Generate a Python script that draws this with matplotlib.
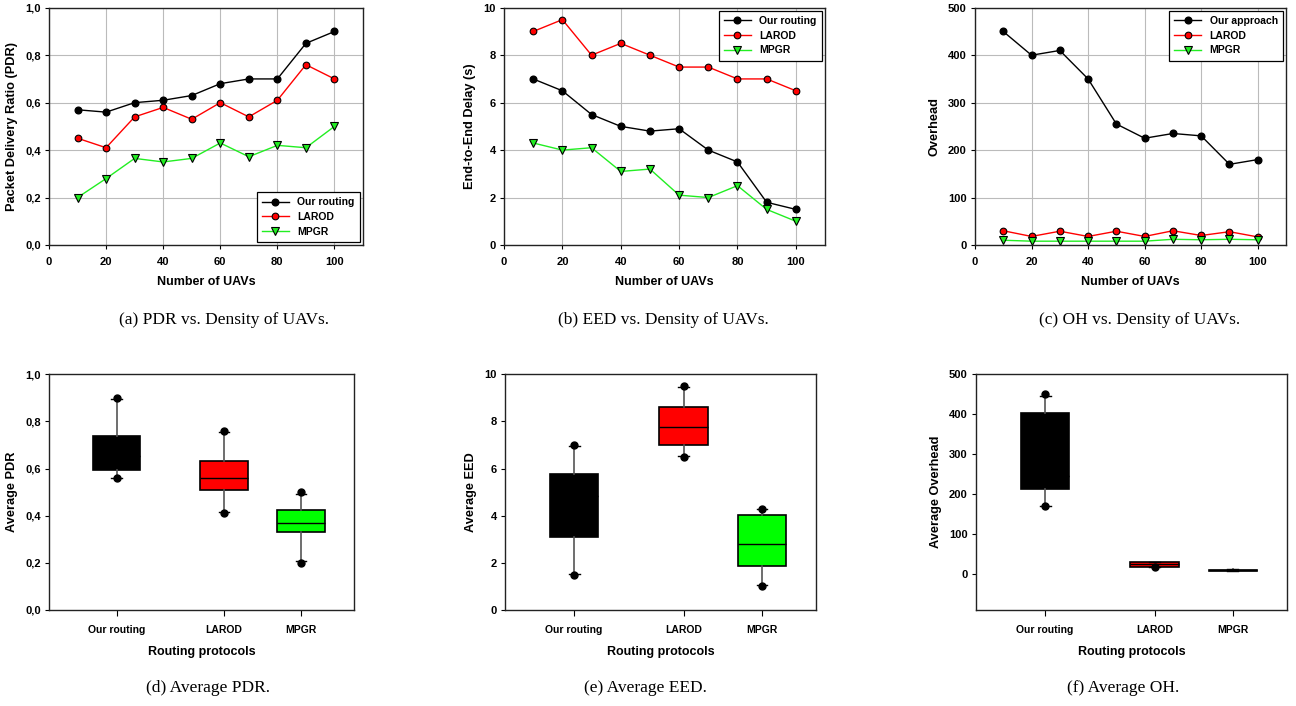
import numpy as np
import matplotlib
matplotlib.use('Agg')
import matplotlib.pyplot as plt
from matplotlib.ticker import FuncFormatter

plt.rcParams['font.family'] = ['Liberation Sans', 'DejaVu Sans']

# data
uavs = [10, 20, 30, 40, 50, 60, 70, 80, 90, 100]
protocols = ['Our routing', 'LAROD', 'MPGR']

pdr_ours = [0.57, 0.56, 0.60, 0.61, 0.63, 0.68, 0.70, 0.70, 0.85, 0.90]
pdr_larod = [0.45, 0.41, 0.54, 0.58, 0.53, 0.60, 0.54, 0.61, 0.76, 0.70]
pdr_mpgr = [0.20, 0.28, 0.365, 0.35, 0.365, 0.43, 0.372, 0.42, 0.41, 0.50]

eed_ours = [7.0, 6.5, 5.5, 5.0, 4.8, 4.9, 4.0, 3.5, 1.8, 1.5]
eed_larod = [9.0, 9.5, 8.0, 8.5, 8.0, 7.5, 7.5, 7.0, 7.0, 6.5]
eed_mpgr = [4.3, 4.0, 4.1, 3.1, 3.2, 2.1, 2.0, 2.5, 1.5, 1.0]

oh_ours = [450, 400, 410, 350, 255, 225, 235, 230, 170, 180]
oh_larod = [30, 18, 29, 18, 29, 18, 30, 20, 28, 17]
oh_mpgr = [10, 8, 8, 8, 8, 8, 12, 11, 12, 11]

fig = plt.figure(figsize=(12.96, 7.06), dpi=100)

TICK = 8
LEG = 7.5
XLAB = 9
YLAB = 9.2


def comma(v, pos):
    return ('%.1f' % v).replace('.', ',')


def style(ax):
    for s in ax.spines.values():
        s.set_linewidth(1.0)
        s.set_color('#222222')
    ax.tick_params(direction='out', length=3, width=0.8, labelsize=TICK, pad=3)
    for t in ax.get_xticklabels() + ax.get_yticklabels():
        t.set_fontweight('bold')


def line_panel(rect, ys, names, ylim, yticks, ylabel, legloc, fmt=None):
    ax = fig.add_axes(rect)
    ax.plot(uavs, ys[0], '-o', color='black', mfc='black', mec='black', ms=4.8, lw=1.0, label=names[0])
    ax.plot(uavs, ys[1], '-o', color='red', mfc='red', mec='black', ms=4.8, mew=0.8, lw=1.0, label=names[1])
    ax.plot(uavs, ys[2], '-v', color='#22ee22', mfc='#22ee22', mec='black', ms=5.2, mew=0.8, lw=1.0, label=names[2])
    ax.set_xlim(0, 110)
    ax.set_ylim(*ylim)
    ax.set_xticks([0, 20, 40, 60, 80, 100])
    ax.set_yticks(yticks)
    if fmt:
        ax.yaxis.set_major_formatter(FuncFormatter(fmt))
    ax.grid(True, color='#bbbbbb', lw=0.8)
    ax.set_axisbelow(True)
    ax.set_xlabel('Number of UAVs', fontsize=XLAB, fontweight='bold', labelpad=6)
    ax.set_ylabel(ylabel, fontsize=YLAB, fontweight='bold', labelpad=5)
    leg = ax.legend(loc=legloc, fancybox=False, framealpha=1,
                    edgecolor='black', handlelength=2.6, borderpad=0.5,
                    labelspacing=0.45, borderaxespad=0.3, prop={'weight': 'bold', 'size': LEG})
    leg.get_frame().set_linewidth(0.9)
    style(ax)
    ax.tick_params(axis='x', pad=6)
    return ax


def box_panel(rect, groups, colors, ylim, yticks, ylabel, fmt=None):
    ax = fig.add_axes(rect)
    positions = [0.222, 0.574, 0.826]
    stats = []
    for g in groups:
        g = np.asarray(g, dtype=float)
        q1, med, q3, lo, hi = np.percentile(g, [25, 50, 75, 10, 90], method='weibull')
        fl = g[(g < lo) | (g > hi)]
        stats.append(dict(med=med, q1=q1, q3=q3, whislo=lo, whishi=hi, fliers=fl))
    bp = ax.bxp(stats, positions=positions, widths=0.155, capwidths=0.035,
                patch_artist=True, showfliers=True,
                boxprops=dict(edgecolor='black', linewidth=1.2),
                medianprops=dict(color='black', linewidth=1.0),
                whiskerprops=dict(color='#555555', linewidth=1.2),
                capprops=dict(color='black', linewidth=1.0),
                flierprops=dict(marker='o', markerfacecolor='black', markeredgecolor='black',
                                markersize=5, linestyle='none'))
    for patch, c in zip(bp['boxes'], colors):
        patch.set_facecolor(c)
    ax.set_xlim(0, 1)
    ax.set_ylim(*ylim)
    ax.set_yticks(yticks)
    if fmt:
        ax.yaxis.set_major_formatter(FuncFormatter(fmt))
    ax.set_xticks(positions)
    ax.set_xticklabels(protocols)
    ax.set_xlabel('Routing protocols', fontsize=XLAB, fontweight='bold', labelpad=8)
    ax.set_ylabel(ylabel, fontsize=YLAB, fontweight='bold', labelpad=5)
    style(ax)
    ax.tick_params(axis='x', pad=7, length=4, labelsize=7.5)
    return ax


line_panel([0.0378, 0.653, 0.2423, 0.336], [pdr_ours, pdr_larod, pdr_mpgr],
           ['Our routing', 'LAROD', 'MPGR'], (0, 1.0), np.arange(0, 1.01, 0.2),
           'Packet Delivery Ratio (PDR)', 'lower right', comma)
line_panel([0.3889, 0.653, 0.2477, 0.336], [eed_ours, eed_larod, eed_mpgr],
           ['Our routing', 'LAROD', 'MPGR'], (0, 10), range(0, 11, 2),
           'End-to-End Delay (s)', 'upper right')
line_panel([0.7523, 0.653, 0.2400, 0.336], [oh_ours, oh_larod, oh_mpgr],
           ['Our approach', 'LAROD', 'MPGR'], (0, 500), range(0, 501, 100),
           'Overhead', 'upper right')

box_colors = ['black', 'red', '#00ff00']
box_panel([0.0378, 0.136, 0.2353, 0.334], [pdr_ours, pdr_larod, pdr_mpgr], box_colors,
          (0, 1.0), np.arange(0, 1.01, 0.2), 'Average PDR', comma)
box_panel([0.3897, 0.136, 0.2400, 0.334], [eed_ours, eed_larod, eed_mpgr], box_colors,
          (0, 10), range(0, 11, 2), 'Average EED')
box_panel([0.7531, 0.136, 0.2400, 0.334], [oh_ours, oh_larod, oh_mpgr], box_colors,
          (-90, 500), range(0, 501, 100), 'Average Overhead')

captions = [
    (224, 320, '(a) PDR vs. Density of UAVs.'),
    (663, 320, '(b) EED vs. Density of UAVs.'),
    (1140, 320, '(c) OH vs. Density of UAVs.'),
    (208, 688, '(d) Average PDR.'),
    (645, 688, '(e) Average EED.'),
    (1123, 688, '(f) Average OH.'),
]
for cx, cy, txt in captions:
    fig.text(cx / 1296, 1 - cy / 706, txt, ha='center', va='center',
             fontsize=12.5, family=['Liberation Serif', 'DejaVu Serif'])

fig.savefig('out.png', dpi=100)
